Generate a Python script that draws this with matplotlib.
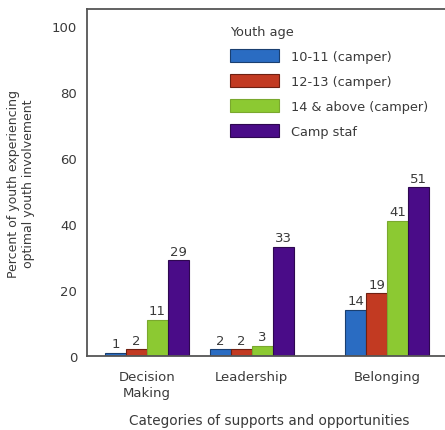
import matplotlib
matplotlib.use("Agg")
import matplotlib.pyplot as plt
import numpy as np

plt.rcParams['font.family'] = ['DejaVu Sans']

categories = ["Decision\nMaking", "Leadership", "Belonging"]
series_names = ["10-11 (camper)", "12-13 (camper)", "14 & above (camper)", "Camp staf"]
v_10_11 = [1, 2, 14]
v_12_13 = [2, 2, 19]
v_14_up = [11, 3, 41]
v_staff = [29, 33, 51]
yticks = [0, 20, 40, 60, 80, 100]

colors = ["#2a6cc2", "#c23a22", "#8cc932", "#4a0c88"]
edges = ["#1a3f70", "#6e2012", "#7aa82e", "#2e0850"]
group_pos = np.array([0, 1, 2.29])
bw = 0.2

fig = plt.figure(figsize=(4.45, 4.31), dpi=100)
ax = fig.add_axes([0.1955, 0.1717, 0.8045, 0.805])
txtc = "#3a3a3a"

all_vals = [v_10_11, v_12_13, v_14_up, v_staff]
for i, (vals, name) in enumerate(zip(all_vals, series_names)):
    xs = group_pos + (i - 1.5) * bw
    ax.bar(xs, vals, width=bw, color=colors[i], edgecolor=edges[i], linewidth=0.8, label=name)
    for x, v in zip(xs, vals):
        ax.text(x, v + 0.8, str(v), ha='center', va='bottom', fontsize=9.5, color=txtc)

ax.set_xlim(-0.57, 2.84)
ax.set_ylim(0, 105)
ax.set_yticks(yticks)
ax.set_xticks(group_pos)
ax.set_xticklabels(categories, fontsize=9.5, color=txtc, linespacing=1.3)
ax.tick_params(axis='both', length=0, labelsize=9.5, colors=txtc)
ax.tick_params(axis='y', pad=7)
ax.tick_params(axis='x', pad=10)
ax.spines['right'].set_visible(False)
for s in ['left', 'bottom', 'top']:
    ax.spines[s].set_color('#555555')
    ax.spines[s].set_linewidth(1.3)

ax.set_ylabel("Percent of youth experiencing\noptimal youth involvement", fontsize=9, color=txtc, labelpad=12)
ax.set_xlabel("Categories of supports and opportunities", fontsize=9.8, color=txtc)
ax.xaxis.set_label_coords(0.508, -0.165)

leg = ax.legend(loc='upper left', bbox_to_anchor=(0.40, 0.955), frameon=False,
                title="Youth age", alignment='left', fontsize=9.3, title_fontsize=9.3,
                handlelength=3.8, handleheight=1.14, labelspacing=0.88, handletextpad=0.9,
                borderpad=0, borderaxespad=0)
for t in leg.get_texts():
    t.set_color(txtc)
leg.get_title().set_color(txtc)

fig.savefig("out.png", dpi=100)
